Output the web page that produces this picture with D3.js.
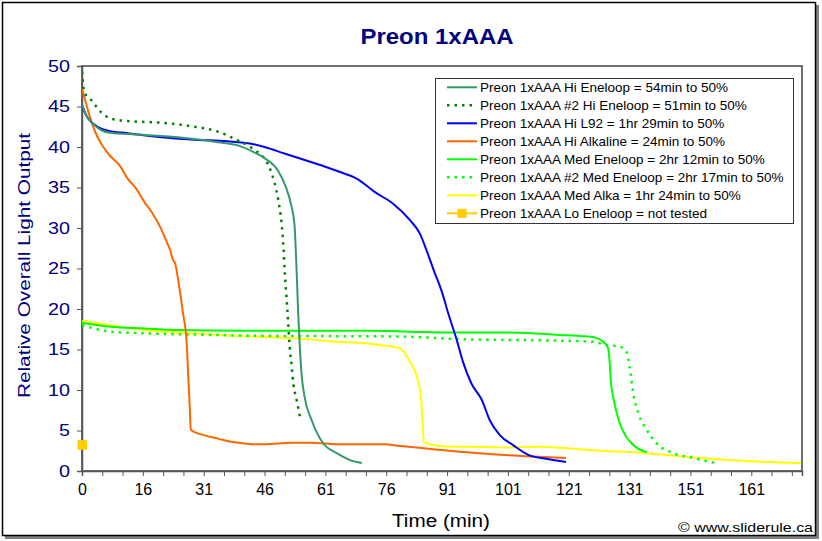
<!DOCTYPE html>
<html><head><meta charset="utf-8">
<script src="https://cdn.jsdelivr.net/npm/d3@7"></script>
<style>
body{margin:0;background:#fff}
svg{display:block}
text{font-family:"Liberation Sans",Arial,sans-serif}
</style>
</head><body>
<svg id="chart" width="822" height="541"></svg>
<script>
// ---------- data ----------
const xTickLabels = [0, 16, 31, 46, 61, 76, 91, 101, 121, 131, 151, 161];
const yTickValues = [0, 5, 10, 15, 20, 25, 30, 35, 40, 45, 50];

const hiEneloop = [[0,45.2],[1.5,43.6],[3.3,42.7],[6.8,41.8],[12.5,41.6],[24.6,41.2],[34.5,40.6],[39.4,40.2],[43.6,39.3],[46.1,38.6],[49.3,37.1],[51.3,35.0],[52.5,33.0],[53.4,30.3],[53.7,27.3],[54.0,23.6],[54.3,19.5],[54.7,15.3],[55.1,12.1],[55.9,9.1],[57.6,6.3],[60.4,3.45],[63.8,2.2],[67.1,1.35],[70.0,1.0]];
const hiEneloop2 = [[0,49.3],[0.6,46.8],[2.4,45.8],[5.0,44.3],[7.6,43.5],[12.0,43.2],[20.5,43.0],[28.7,42.5],[34.5,41.9],[38.6,41.0],[41.9,40.2],[43.6,39.6],[45.6,38.8],[47.2,37.5],[48.5,35.5],[49.4,33.4],[50.2,30.6],[50.7,27.3],[51.0,24.4],[51.4,21.5],[51.8,18.6],[52.2,15.3],[52.7,12.9],[53.1,10.8],[53.9,8.8],[54.9,6.3]];
const hiL92 = [[0,45.2],[1.1,43.9],[2.4,43.1],[4.1,42.5],[6.8,42.0],[12.0,41.7],[20.5,41.2],[28.7,40.9],[36.9,40.7],[42.7,40.4],[46.0,40.0],[50.9,39.2],[55.9,38.4],[60.8,37.6],[64.1,37.0],[68.7,36.1],[73.6,34.3],[77.7,33.0],[81.8,31.0],[84.3,29.3],[85.9,27.3],[88.0,24.4],[89.6,22.3],[91.3,19.2],[92.5,16.4],[93.6,13.5],[95.0,10.8],[96.7,8.8],[98.0,6.3],[99.7,4.4],[102.7,3.2],[107.7,2.0],[113.7,1.5],[120.1,1.1]];
const hiAlkaline = [[0,47.2],[1.05,45.4],[1.95,43.9],[2.8,42.7],[4.1,41.2],[5.9,39.8],[7.6,38.8],[9.8,37.8],[12.0,36.1],[14.2,34.9],[16.4,33.2],[18.4,31.8],[20.5,29.9],[21.7,28.5],[22.7,27.3],[23.5,26.0],[23.9,25.7],[25.1,22.3],[25.9,19.5],[26.8,15.8],[27.2,11.6],[27.6,7.5],[27.8,5.1],[31.2,4.4],[34.5,4.0],[37.8,3.6],[41.1,3.4],[42.7,3.3],[46.0,3.3],[52.6,3.5],[57.5,3.5],[64.1,3.3],[69.5,3.3],[75.3,3.3],[79.4,3.1],[87.6,2.7],[94.2,2.3],[99.7,2.0],[109.3,1.8],[120.1,1.6]];
const medEneloop = [[0,18.3],[7.6,17.8],[16.4,17.6],[24.5,17.4],[41.0,17.3],[64.1,17.3],[71.2,17.3],[81.8,17.2],[91.5,17.1],[99.7,17.1],[109.3,17.0],[118.1,16.8],[123.4,16.65],[125.6,16.4],[126.7,15.95],[127.4,15.3],[127.7,13.7],[127.9,11.2],[128.4,8.8],[129.2,6.3],[130.3,4.4],[132.2,3.2],[136.6,2.3]];
const medEneloop2 = [[0,18.0],[7.6,17.2],[16.4,17.0],[32.8,16.8],[42.4,16.7],[64.1,16.65],[79.4,16.6],[94.2,16.25],[109.3,16.15],[125.0,15.95],[127.2,15.55],[129.4,15.35],[130.5,14.7],[131.0,12.9],[132.2,9.6],[133.9,7.1],[136.6,5.1],[139.9,3.4],[145.4,2.2],[151.5,1.6],[155.0,1.0]];
const medAlka = [[0,18.55],[7.6,18.0],[16.4,17.4],[24.6,17.1],[41.0,16.65],[53.3,16.4],[64.1,15.95],[67.0,15.9],[75.3,15.5],[79.4,15.1],[80.0,14.9],[81.8,13.5],[83.8,11.2],[84.6,8.8],[84.9,6.3],[85.3,3.6],[87.6,3.2],[91.5,3.0],[94.8,3.0],[100.8,2.9],[111.5,3.0],[120.3,2.8],[126.1,2.5],[136.6,2.2],[152.6,1.6],[160.8,1.2],[169.2,0.95]];
const loEneloop = [[0,3.25]];

const seriesNames = [
  "Preon 1xAAA Hi Eneloop = 54min to 50%",
  "Preon 1xAAA #2 Hi Eneloop = 51min to 50%",
  "Preon 1xAAA Hi L92 = 1hr 29min to 50%",
  "Preon 1xAAA Hi Alkaline = 24min to 50%",
  "Preon 1xAAA Med Eneloop = 2hr 12min to 50%",
  "Preon 1xAAA #2 Med Eneloop = 2hr 17min to 50%",
  "Preon 1xAAA Med Alka = 1hr 24min to 50%",
  "Preon 1xAAA Lo Eneloop = not tested"
];
const seriesData = [hiEneloop, hiEneloop2, hiL92, hiAlkaline, medEneloop, medEneloop2, medAlka, loEneloop];
const seriesColors = ["#339966", "#008000", "#0000FF", "#FF6600", "#00FF00", "#00FF00", "#FFFF00", "#FFCC00"];
const seriesDash = [null, "2.5,5", null, null, null, "2.5,5", null, null];
const seriesWidth = [2, 2.5, 2, 2, 2, 2.5, 2, 2];

const titleText = "Preon 1xAAA";
const yTitle = "Relative Overall Light Output";
const xTitle = "Time (min)";
const credit = "\u00A9 www.sliderule.ca";

// ---------- layout ----------
const svg = d3.select("#chart");
const L = 82, R = 802, T = 66, B = 471;
const NAV = "#000080";

svg.append("rect").attr("x",0).attr("y",0).attr("width",822).attr("height",541).attr("fill","#fff");
// frame shadow + border
svg.append("rect").attr("x",5).attr("y",5).attr("width",814).attr("height",534).attr("fill","#808080");
svg.append("rect").attr("x",2.5).attr("y",2.5).attr("width",813).attr("height",533)
  .attr("fill","#fff").attr("stroke","#000").attr("stroke-width",1.5);

// scales
const idx = d3.scaleLinear().domain([0, 35.5]).range([L, R]);   // category tick positions
const x = d3.scaleLinear().domain(xTickLabels).range(xTickLabels.map((d,i) => idx(i*3)));
const y = d3.scaleLinear().domain([0, 50]).range([B, T]);

// plot area border
svg.append("rect").attr("x",L).attr("y",T).attr("width",R-L).attr("height",B-T)
  .attr("fill","#fff").attr("stroke","#404040").attr("stroke-width",1.5);

// clip
svg.append("clipPath").attr("id","clip").append("rect").attr("x",L).attr("y",T-4).attr("width",R-L).attr("height",B-T+4);

// y axis
const yAxis = svg.append("g").attr("transform",`translate(${L},0)`)
  .call(d3.axisLeft(y).tickValues(yTickValues).tickSize(5).tickPadding(7));
yAxis.select(".domain").attr("stroke","#555").attr("stroke-width",1.5);
yAxis.selectAll(".tick line").attr("stroke","#555");
yAxis.selectAll(".tick text").attr("fill",NAV).attr("font-size",17)
  .attr("font-family",'"Liberation Sans",Arial,sans-serif')
  .each(function(){ const s=d3.select(this); s.attr("textLength", s.text().length*11).attr("lengthAdjust","spacingAndGlyphs"); });

// x axis
const xAxis = svg.append("g").attr("transform",`translate(0,${B})`)
  .call(d3.axisBottom(idx).tickValues(d3.range(36)).tickSize(5).tickPadding(8)
    .tickFormat(i => i % 3 === 0 && xTickLabels[i/3] !== undefined ? xTickLabels[i/3] : ""));
xAxis.select(".domain").attr("stroke","#555").attr("stroke-width",1.5);
xAxis.selectAll(".tick line").attr("stroke","#555");
xAxis.selectAll(".tick text").attr("fill","#000").attr("font-size",16)
  .attr("font-family",'"Liberation Sans",Arial,sans-serif');

// lines
const line = d3.line().x(d => x(d[0])).y(d => y(d[1])).curve(d3.curveMonotoneX);
const gLines = svg.append("g").attr("clip-path","url(#clip)");
[6,5,4,3,2,1,0].forEach(i => {
  gLines.append("path").datum(seriesData[i]).attr("d", line)
    .attr("fill","none").attr("stroke", seriesColors[i]).attr("stroke-width", seriesWidth[i])
    .attr("stroke-dasharray", seriesDash[i]).attr("stroke-linejoin","round");
});
// Lo Eneloop marker
svg.append("g").selectAll("rect").data(loEneloop).join("rect")
  .attr("x", d => x(d[0]) - 4.5).attr("y", d => y(d[1]) - 4.5)
  .attr("width",9.5).attr("height",9.5).attr("fill", seriesColors[7]);

// title
svg.append("text").attr("x",437).attr("y",44).attr("text-anchor","middle")
  .attr("font-size",22).attr("font-weight","bold").attr("fill",NAV)
  .attr("textLength",153).attr("lengthAdjust","spacingAndGlyphs").text(titleText);

// y title
svg.append("text").attr("transform","translate(30,265.5) rotate(-90)").attr("text-anchor","middle")
  .attr("font-size",17).attr("fill",NAV)
  .attr("textLength",265).attr("lengthAdjust","spacingAndGlyphs").text(yTitle);

// x title
svg.append("text").attr("x",441).attr("y",527).attr("text-anchor","middle")
  .attr("font-size",18).attr("fill","#000")
  .attr("textLength",98).attr("lengthAdjust","spacingAndGlyphs").text(xTitle);

// credit
svg.append("text").attr("x",813).attr("y",532).attr("text-anchor","end")
  .attr("font-size",13).attr("fill","#000")
  .attr("textLength",135).attr("lengthAdjust","spacingAndGlyphs").text(credit);

// legend
const lg = svg.append("g");
lg.append("rect").attr("x",435.5).attr("y",78.5).attr("width",358).attr("height",145)
  .attr("fill","#fff").attr("stroke","#333").attr("stroke-width",1);
const ly = i => 87.3 + i * 18.0;
seriesNames.forEach((name, i) => {
  lg.append("line").attr("x1",447).attr("x2",477).attr("y1",ly(i)).attr("y2",ly(i))
    .attr("stroke", seriesColors[i]).attr("stroke-width", seriesWidth[i])
    .attr("stroke-dasharray", seriesDash[i]);
  if (i === 7) {
    lg.append("rect").attr("x",457.5).attr("y",ly(i)-4.5).attr("width",9).attr("height",9).attr("fill",seriesColors[i]);
  }
  lg.append("text").attr("x",480).attr("y",ly(i)+5).attr("font-size",13.5).attr("fill","#000").text(name);
});
</script>
</body></html>
